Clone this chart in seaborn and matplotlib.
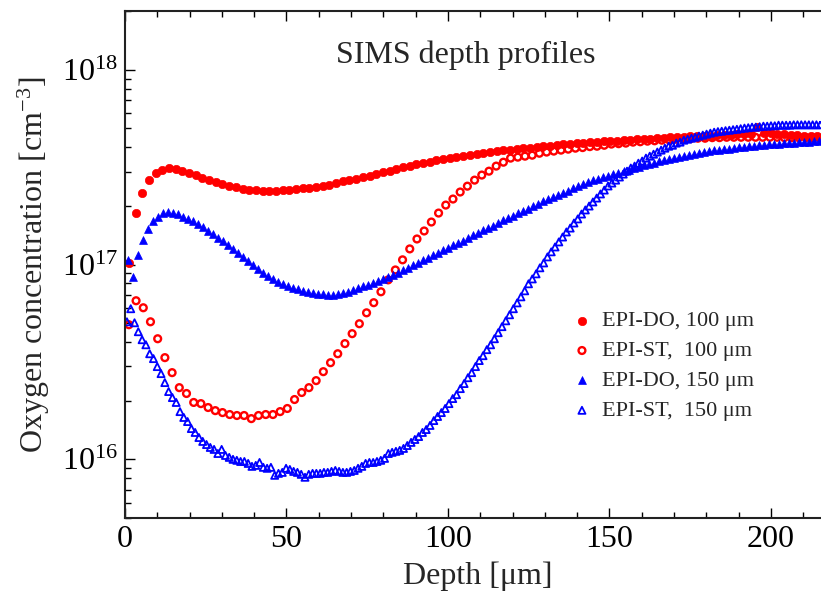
import numpy as np
import pandas as pd
import matplotlib
matplotlib.use("Agg")
import matplotlib.pyplot as plt
import seaborn as sns
from matplotlib.ticker import MultipleLocator, LogLocator, NullFormatter

# SIMS profiles, log10 of oxygen concentration [cm^-3].
# Each profile is sampled on a regular depth grid: first depth and step in um.
do100_start, do100_step = 1.2, 2.07
do100_log = [17.008, 17.264, 17.367, 17.433, 17.469, 17.484, 17.495, 17.490, 17.479, 17.469,
             17.459, 17.443, 17.433, 17.423, 17.413, 17.402, 17.397, 17.387, 17.382, 17.382,
             17.377, 17.377, 17.377, 17.382, 17.382, 17.387, 17.392, 17.392,
             17.398, 17.403, 17.410, 17.418, 17.426, 17.433, 17.438, 17.449, 17.456, 17.464,
             17.474, 17.482, 17.490, 17.500, 17.508, 17.515, 17.520, 17.528, 17.536, 17.541,
             17.546, 17.551, 17.556, 17.561, 17.566, 17.571, 17.577, 17.582, 17.587, 17.590,
             17.592, 17.597, 17.600, 17.602, 17.607, 17.610, 17.612, 17.618, 17.620, 17.623,
             17.625, 17.628, 17.630, 17.633, 17.633, 17.635, 17.638, 17.640, 17.643, 17.643,
             17.646, 17.648, 17.651, 17.653, 17.653, 17.656, 17.659, 17.659, 17.659, 17.661,
             17.664, 17.664, 17.666, 17.669, 17.669, 17.671, 17.705, 17.674, 17.674, 17.671,
             17.669, 17.666, 17.664, 17.661, 17.659, 17.659]

st100_start, st100_step = 1.2, 2.23
st100_log = [16.691, 16.814, 16.778, 16.706, 16.619, 16.522, 16.445, 16.368, 16.338, 16.292,
             16.286, 16.266, 16.250, 16.240, 16.230, 16.225, 16.225, 16.209, 16.225, 16.230,
             16.230, 16.245, 16.261, 16.307, 16.343, 16.368,
             16.404, 16.450, 16.496, 16.542, 16.594, 16.645, 16.696, 16.752, 16.804, 16.860,
             16.921, 16.972, 17.024, 17.080, 17.131, 17.172, 17.218, 17.264, 17.305, 17.336,
             17.372, 17.402, 17.433, 17.459, 17.479, 17.505, 17.525, 17.546, 17.551, 17.556,
             17.561, 17.571, 17.577, 17.582, 17.587, 17.592, 17.597, 17.600, 17.605, 17.607,
             17.612, 17.618, 17.620, 17.623, 17.628, 17.630, 17.633, 17.635, 17.638, 17.640,
             17.643, 17.646, 17.646, 17.648, 17.648, 17.651, 17.651, 17.653, 17.653, 17.653,
             17.653, 17.653, 17.653, 17.653, 17.653, 17.651, 17.651, 17.651, 17.651, 17.648,
             17.648]

do150_start, do150_step = 0.9, 1.55
do150_log = [17.024, 16.937, 17.049, 17.126, 17.182, 17.223, 17.244, 17.264, 17.269, 17.264,
             17.259, 17.244, 17.234, 17.223, 17.208, 17.193, 17.172, 17.157, 17.136, 17.121,
             17.100, 17.080, 17.059, 17.039, 17.018, 16.998, 16.978, 16.957, 16.942, 16.926,
             16.911, 16.901, 16.890, 16.880, 16.873, 16.865, 16.860, 16.855, 16.850, 16.847,
             16.844, 16.844, 16.847, 16.852, 16.860, 16.870, 16.878, 16.888, 16.896, 16.906,
             16.916, 16.926, 16.937, 16.947, 16.957, 16.970, 16.983, 16.995, 17.008, 17.021,
             17.034, 17.047, 17.059, 17.075, 17.085, 17.098, 17.111, 17.123, 17.136, 17.149,
             17.162, 17.175, 17.187, 17.200, 17.213, 17.226, 17.239, 17.249, 17.262, 17.275,
             17.287, 17.300, 17.313, 17.326, 17.336, 17.346, 17.356, 17.369, 17.379, 17.392,
             17.402, 17.413, 17.423, 17.433, 17.441, 17.449, 17.456, 17.464, 17.472, 17.479,
             17.487, 17.495, 17.502, 17.510, 17.518, 17.523, 17.531, 17.536, 17.543, 17.548,
             17.554, 17.559, 17.564, 17.569, 17.574, 17.579, 17.582, 17.587, 17.590, 17.592,
             17.595, 17.597, 17.602, 17.605, 17.607, 17.610, 17.612, 17.615, 17.618, 17.618,
             17.620, 17.623, 17.623, 17.625, 17.628, 17.628, 17.630, 17.633, 17.633]

st150_start, st150_step = 0.6, 1.173
st150_log = [16.706, 16.773, 16.701, 16.655, 16.614, 16.588, 16.542, 16.517, 16.476, 16.440,
             16.394, 16.348, 16.317, 16.292, 16.245, 16.215, 16.194, 16.158, 16.138, 16.112,
             16.092, 16.076, 16.061, 16.051, 16.030, 16.051, 16.020, 16.010, 16.000, 15.995,
             15.989, 15.989, 15.979, 15.964, 15.969, 15.984, 15.959, 15.954, 15.959, 15.918,
             15.928, 15.933, 15.954, 15.948, 15.938, 15.933, 15.923, 15.908, 15.923,
             15.928, 15.928, 15.928, 15.933, 15.933, 15.938, 15.943, 15.938, 15.933, 15.933,
             15.938, 15.943, 15.954, 15.964, 15.979, 15.984, 15.984, 15.989, 15.995, 16.005,
             16.030, 16.036, 16.041, 16.046, 16.056, 16.071, 16.087, 16.102, 16.117, 16.138,
             16.153, 16.174, 16.199, 16.220, 16.240, 16.261, 16.286, 16.312, 16.332, 16.363,
             16.389, 16.419, 16.445, 16.476, 16.507, 16.532, 16.563, 16.588, 16.619, 16.650,
             16.681, 16.711, 16.742, 16.773, 16.803, 16.834, 16.865, 16.901, 16.926, 16.952,
             16.983, 17.008, 17.039, 17.065, 17.090, 17.116, 17.141, 17.167, 17.187, 17.213,
             17.234, 17.259, 17.280, 17.300, 17.321, 17.341, 17.362, 17.382, 17.403, 17.418,
             17.433, 17.449, 17.464, 17.479, 17.495, 17.505, 17.520, 17.531, 17.546, 17.556,
             17.566, 17.577, 17.587, 17.597, 17.607, 17.612, 17.623, 17.628, 17.638, 17.643,
             17.648, 17.653, 17.659, 17.664, 17.669, 17.674, 17.679, 17.682, 17.684, 17.687,
             17.689, 17.692, 17.694, 17.697, 17.700, 17.702, 17.705, 17.705, 17.707, 17.710,
             17.710, 17.712, 17.712, 17.715, 17.715, 17.715, 17.715, 17.717, 17.717, 17.717,
             17.717, 17.717, 17.717, 17.717, 17.717]

labels = ['EPI-DO, 100 \u03bcm', 'EPI-ST,  100 \u03bcm', 'EPI-DO, 150 \u03bcm', 'EPI-ST,  150 \u03bcm']


def profile(start, step, logs):
    depth = start + step * np.arange(len(logs))
    return pd.DataFrame({'depth': depth, 'conc': 10 ** np.array(logs)})


sns.set_style('ticks')
plt.rcParams['font.family'] = ['Liberation Serif', 'DejaVu Serif']
plt.rcParams['mathtext.fontset'] = 'custom'
plt.rcParams['mathtext.rm'] = 'Liberation Serif'
plt.rcParams['mathtext.it'] = 'Liberation Serif:italic'

fig = plt.figure(figsize=(8.21, 5.96), dpi=100)
ax = fig.add_axes([125 / 821, 1 - 518 / 596, 1 - 125 / 821, 507 / 596])

sns.scatterplot(data=profile(do100_start, do100_step, do100_log), x='depth', y='conc',
                marker='o', s=36, color='red', edgecolor='red', linewidth=0.5,
                label=labels[0], ax=ax)
sns.scatterplot(data=profile(st100_start, st100_step, st100_log), x='depth', y='conc',
                marker='o', s=24, facecolor='none', edgecolor='red', linewidth=1.7,
                label=labels[1], ax=ax)
sns.scatterplot(data=profile(do150_start, do150_step, do150_log), x='depth', y='conc',
                marker='^', s=32, color='blue', edgecolor='blue', linewidth=0.5,
                label=labels[2], ax=ax)
sns.scatterplot(data=profile(st150_start, st150_step, st150_log), x='depth', y='conc',
                marker='^', s=26, facecolor='none', edgecolor='blue', linewidth=1.3,
                label=labels[3], ax=ax)

ax.set_yscale('log')
ax.set_xlim(0, 215.5)
ax.set_ylim(5e15, 2e18)
ax.xaxis.set_major_locator(MultipleLocator(50))
ax.xaxis.set_minor_locator(MultipleLocator(10))
ax.yaxis.set_major_locator(LogLocator(base=10))
ax.yaxis.set_minor_locator(LogLocator(base=10, subs=np.arange(2, 10)))
ax.yaxis.set_minor_formatter(NullFormatter())

ax.tick_params(which='both', direction='in', top=True, right=False, width=1, colors='black')
ax.tick_params(which='major', length=7.5)
ax.tick_params(which='minor', length=4.5)
ax.tick_params(axis='x', which='major', labelsize=23, pad=5)
ax.tick_params(axis='y', which='major', labelsize=23, pad=5)
for side in ['left', 'bottom', 'top']:
    ax.spines[side].set_linewidth(1.5)
    ax.spines[side].set_color('#222222')
ax.spines['right'].set_visible(False)

ax.set_xlabel('Depth [\u03bcm]', fontsize=23)
ax.set_ylabel('Oxygen concentration [cm$^{-3}$]', fontsize=23)
ax.xaxis.set_label_coords(0.507, -0.085)
ax.yaxis.set_label_coords(-0.105, 0.5)

ax.text(0.489, 0.913, 'SIMS depth profiles', transform=ax.transAxes,
        ha='center', va='center', fontsize=23)

ax.legend(loc='upper left', bbox_to_anchor=(0.631, 0.426), frameon=False, fontsize=16,
          handlelength=0.8, handletextpad=0.5, labelspacing=0.42, borderaxespad=0)

fig.savefig('out.png', dpi=100)
